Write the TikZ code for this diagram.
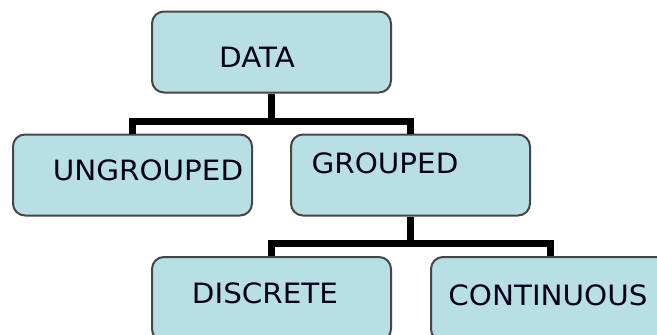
\documentclass[tikz,border=0pt]{standalone}
\usepackage{fontspec}
\usepackage{graphicx}
\setmainfont{DejaVu Sans}
\definecolor{boxfill}{RGB}{184,223,228}
\definecolor{boxline}{RGB}{70,70,70}
\newcommand{\wtxt}[1]{\scalebox{1.05}[1]{#1}}
\begin{document}
\begin{tikzpicture}[x=1pt,y=-1pt,
  box/.style={draw=boxline,fill=boxfill,line width=2pt,rounded corners=12pt,
    minimum width=239pt,minimum height=81pt,inner sep=0pt},
  lbl/.style={font=\fontsize{28}{30}\selectfont,text=black!90!blue,inner sep=0pt,anchor=center},
  conn/.style={line width=7pt,black,line join=miter}]
\useasboundingbox (0,0) rectangle (657,335);
\clip (0,0) rectangle (657,335);
\node[box] (data) at (271.5,52) {};
\node[box] (ung) at (132.5,175) {};
\node[box] (grp) at (410.5,175) {};
\node[box,minimum height=84pt] (dis) at (271.5,299) {};
\node[box,minimum height=84pt] (con) at (550.5,299) {};
\coordinate (b1) at (0,121);
\coordinate (b2) at (0,243);
\draw[conn] (data.south) -- (data.south |- b1);
\draw[conn] (ung.north) -- (ung.north |- b1) -- (grp.north |- b1) -- (grp.north);
\draw[conn] (grp.south) -- (grp.south |- b2);
\draw[conn] (dis.north) -- (dis.north |- b2) -- (con.north |- b2) -- (con.north);
\node[lbl] (datat) at (257,57) {\wtxt{DATA}};
\node[lbl] (ungt) at (148,170) {\wtxt{UNGROUPED}};
\node[lbl] (grpt) at (385,163) {\wtxt{GROUPED}};
\node[lbl] (dist) at (265,293) {\wtxt{DISCRETE}};
\node[lbl] (cont) at (548,295) {\wtxt{CONTINUOUS}};
\end{tikzpicture}
\end{document}
